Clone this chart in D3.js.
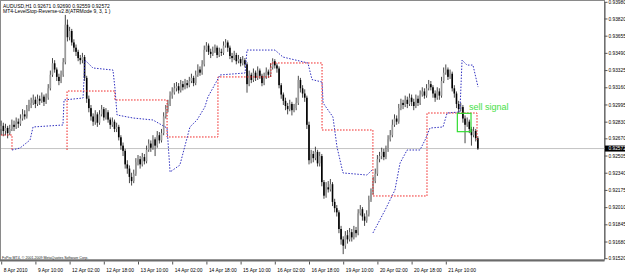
<!DOCTYPE html>
<html><head><meta charset="utf-8">
<script src="https://cdn.jsdelivr.net/npm/d3@7"></script>
<style>
html,body{margin:0;padding:0;background:#fff;}
svg{display:block;}
text{font-family:"Liberation Sans",Arial,sans-serif;}
</style></head><body>
<svg id="c" width="625" height="276"></svg>
<script>
// prices in points (1e-5)
const PT = 1e-5;
const opens = [92760,92790,92740,92770,92720,92760,92800,92780,92830,92810,
92860,92900,92880,92950,92990,93010,93040,93000,93050,93030,
93070,93020,93060,93150,93280,93390,93330,93260,93220,93280,
93400,93760,93640,93700,93590,93540,93500,93440,93420,93450,
93250,93050,92960,92880,92830,92900,92820,92900,92950,92870,
92920,92850,92800,92830,92760,92780,92680,92600,92550,92420,
92380,92300,92260,92330,92440,92470,92420,92490,92450,92560,
92620,92580,92660,92600,92700,92650,92720,92880,92950,93000,
93080,93110,93150,93170,93130,93190,93160,93200,93180,93220,
93250,93200,93280,93330,93300,93380,93520,93560,93500,93480,
93510,93540,93470,93500,93490,93560,93590,93540,93460,93440,
93470,93410,93430,93390,93420,93380,93190,93280,93230,93300,
93250,93320,93270,93200,93260,93310,93280,93350,93410,93370,
93340,93180,93090,93030,92980,92950,93000,92940,92960,93010,
93230,93150,93100,93060,92800,92460,92520,92480,92540,92430,
92500,92250,92120,92200,92180,92230,92060,92000,91960,91800,
91700,91640,91740,91700,91770,91720,91790,91760,91950,91990,
91920,91880,91940,92080,92150,92260,92330,92470,92500,92540,
92490,92560,92660,92700,92800,92860,92830,92960,93010,92990,
93040,93000,93060,93020,92980,93050,93010,93090,93120,93080,
93150,93190,93160,93100,93060,93120,93080,93220,93300,93330,
93260,93290,93150,93100,93000,92950,92970,92860,92800,92830,
92760,92700,92740,92671];
const highs = [92840,92820,92810,92790,92800,92850,92840,92870,92860,92900,
92950,92940,92990,93040,93060,93090,93070,93090,93080,93110,
93090,93100,93190,93320,93440,93420,93350,93290,93320,93440,
93854,93810,93740,93720,93620,93570,93520,93470,93490,93470,
93270,93080,92990,92910,92940,92920,92940,92990,92970,92960,
92940,92870,92870,92850,92820,92800,92700,92630,92570,92460,
92410,92340,92370,92480,92510,92500,92530,92520,92600,92660,
92650,92700,92680,92740,92730,92760,92920,92990,93040,93120,
93160,93200,93210,93200,93230,93220,93240,93230,93260,93290,
93270,93320,93380,93360,93420,93560,93593,93580,93530,93550,
93570,93560,93540,93530,93600,93622,93610,93560,93490,93510,
93490,93470,93450,93460,93440,93400,93320,93300,93340,93320,
93360,93340,93290,93300,93350,93330,93390,93438,93430,93390,
93360,93200,93110,93060,93010,93040,93020,93000,93060,93270,
93250,93180,93140,93080,92830,92560,92550,92590,92560,92540,
92520,92270,92250,92260,92280,92250,92090,92030,91980,91830,
91730,91780,91790,91810,91800,91830,91820,91990,92030,92010,
91950,91980,92120,92190,92300,92380,92510,92540,92580,92570,
92600,92700,92750,92850,92900,92890,93000,93050,93040,93080,
93070,93100,93090,93050,93090,93080,93130,93160,93150,93190,
93230,93220,93180,93130,93160,93150,93260,93350,93379,93350,
93330,93310,93180,93120,93030,93010,92990,92890,92870,92850,
92780,92780,92760,92690];
const lows = [92700,92690,92700,92670,92700,92740,92740,92760,92770,92790,
92840,92850,92860,92930,92960,92990,92960,92980,92990,93010,
92980,93000,93040,93130,93260,93300,93220,93180,93200,93260,
93380,93600,93610,93560,93500,93460,93410,93380,93390,93220,
93010,92920,92840,92790,92800,92780,92800,92880,92840,92850,
92820,92760,92780,92730,92730,92650,92560,92500,92380,92330,
92240,92217,92240,92310,92410,92380,92400,92420,92430,92540,
92540,92560,92500,92580,92620,92630,92700,92860,92920,92980,
93050,93090,93120,93100,93110,93130,93140,93150,93160,93200,
93170,93180,93260,93270,93280,93360,93500,93470,93440,93460,
93490,93440,93450,93460,93470,93540,93500,93430,93400,93420,
93380,93390,93360,93370,93350,93108,93170,93200,93210,93220,
93230,93240,93170,93180,93240,93250,93260,93330,93340,93300,
93150,93050,92990,92940,92900,92930,92890,92920,92940,92990,
93110,93060,93020,92760,92420,92430,92440,92460,92400,92400,
92210,92090,92100,92150,92160,92020,91960,91920,91760,91650,
91559,91610,91660,91680,91680,91700,91720,91740,91930,91880,
91830,91860,91920,92060,92130,92240,92310,92440,92470,92460,
92470,92540,92640,92680,92780,92800,92810,92940,92950,92970,
92960,92980,92980,92940,92960,92980,92990,93070,93050,93060,
93130,93130,93060,93020,93040,93040,93060,93200,93280,93230,
93240,93120,93060,92960,92910,92930,92820,92623,92780,92720,
92600,92680,92640,92559];
const closes = [92790,92740,92770,92720,92760,92800,92780,92830,92810,92860,
92900,92880,92950,92990,93010,93040,93000,93050,93030,93070,
93020,93060,93150,93280,93390,93330,93260,93220,93280,93400,
93760,93640,93700,93590,93540,93500,93440,93420,93450,93250,
93050,92960,92880,92830,92900,92820,92900,92950,92870,92920,
92850,92800,92830,92760,92780,92680,92600,92550,92420,92380,
92300,92260,92330,92440,92470,92420,92490,92450,92560,92620,
92580,92660,92600,92700,92650,92720,92880,92950,93000,93080,
93110,93150,93170,93130,93190,93160,93200,93180,93220,93250,
93200,93280,93330,93300,93380,93520,93560,93500,93480,93510,
93540,93470,93500,93490,93560,93590,93540,93460,93440,93470,
93410,93430,93390,93420,93380,93190,93280,93230,93300,93250,
93320,93270,93200,93260,93310,93280,93350,93410,93370,93340,
93180,93090,93030,92980,92950,93000,92940,92960,93010,93230,
93150,93100,93060,92800,92460,92520,92480,92540,92430,92500,
92250,92120,92200,92180,92230,92060,92000,91960,91800,91700,
91640,91740,91700,91770,91720,91790,91760,91950,91990,91920,
91880,91940,92080,92150,92260,92330,92470,92500,92540,92490,
92560,92660,92700,92800,92860,92830,92960,93010,92990,93040,
93000,93060,93020,92980,93050,93010,93090,93120,93080,93150,
93190,93160,93100,93060,93120,93080,93220,93300,93330,93260,
93290,93150,93100,93000,92950,92970,92860,92800,92830,92760,
92700,92740,92671,92572];

const timeTickBars = [0,16,32,48,64,80,96,112,128,144,160,176,192,208];
const timeTickLabels = ["8 Apr 2010","9 Apr 10:00","12 Apr 02:00","12 Apr 18:00","13 Apr 10:00","14 Apr 02:00","14 Apr 18:00","15 Apr 10:00","16 Apr 02:00","16 Apr 18:00","19 Apr 10:00","20 Apr 02:00","20 Apr 18:00","21 Apr 10:00"];
const priceTicks = [0.93980,0.93820,0.93655,0.93490,0.93325,0.93160,0.92995,0.92830,0.92670,0.92505,0.92340,0.92175,0.92010,0.91845,0.91680,0.91520];

// indicator lines: [bar, price points]
const redLevel = [
 [[0,92702],[5.05,92702],[5.05,92558]],
 [[30.8,92558],[30.8,93124],[53.2,93124],[53.2,93038],[77.6,93038],[77.6,92683],[101.4,92683],[101.4,93259],[126.2,93259],[126.2,93393],[150.1,93393],[150.1,92750],[173.9,92750],[173.9,92117],[199.2,92117],[199.2,92913],[222.6,92913],[222.6,92654]]
];
const blueTrail = [
 [[5.05,92558],[8.8,92577],[13.5,92654],[14.9,92779],[28.9,92798],[29.4,93038],[38.3,93057],[39.2,93421],[42.9,93345],[52.3,93325],[53.2,93153],[54.2,92894],[61.7,92865],[71.0,92846],[77.6,92769],[79.0,92347],[83.6,92414],[88.3,92779],[91.6,92846],[95.3,92971],[96.7,93066],[102.4,93278],[114.1,93297],[115.0,93517],[128.1,93517],[131.8,93450],[143.5,93393],[145.4,93234],[150.1,93210],[150.6,93009],[155.2,92875],[157.1,92587],[159.9,92338],[171.1,92318],[173.5,92366]],
 [[173.9,91762],[179.6,91982],[184.2,92174],[186.6,92433],[189.9,92558],[195.9,92558],[198.3,92654],[200.6,92769],[206.7,92779],[208.6,92913],[214.6,92923],[215.6,93421],[217.9,93373],[220.7,93373],[223.1,93162]]
];
const signalBox = {bar0:213.4, bar1:219.8, hi:92910, lo:92734, label:"sell signal"};
const symbolTitle = "AUDUSD,H1  0.92671 0.92690 0.92559 0.92572";
const indicatorTitle = "MT4-LevelStop-Reverse-v2.8(ATRMode 9, 3, 1 )";
const copyright = "FxPro MT4, © 2001-2009 MetaQuotes Software Corp.";

const svg = d3.select("#c");
const W = 604.5, B = 259.5;
const x = d3.scaleLinear().domain([0,208]).range([1.2,445.8]);
const y = d3.scaleLinear().domain([0.9152,0.9398]).range([258.2,1.8]);
const P = v => v*PT;

// frame
svg.append("rect").attr("x",0.5).attr("y",0.5).attr("width",W-0.5).attr("height",B).attr("fill","#fff").attr("stroke","#8a8a8a").attr("stroke-width",1);

const last = closes[closes.length-1];
// current price line
svg.append("line").attr("x1",1).attr("x2",W).attr("y1",y(P(last))).attr("y2",y(P(last))).attr("stroke","#c4c4c4").attr("stroke-width",1);

// candles
const bars = d3.range(closes.length).map(i=>({i,o:P(opens[i]),h:P(highs[i]),l:P(lows[i]),c:P(closes[i])}));
const g = svg.append("g");
g.selectAll("line.w").data(bars).join("line").attr("class","w")
 .attr("x1",d=>x(d.i)).attr("x2",d=>x(d.i)).attr("y1",d=>y(d.h)).attr("y2",d=>y(d.l))
 .attr("stroke","#333").attr("stroke-width",0.9);
g.selectAll("rect.b").data(bars).join("rect").attr("class","b")
 .attr("x",d=>x(d.i)-0.8).attr("width",1.6)
 .attr("y",d=>y(Math.max(d.o,d.c))).attr("height",d=>Math.max(0.8,Math.abs(y(d.o)-y(d.c))))
 .attr("fill",d=>d.c>=d.o?"#9a9a9a":"#000");

// indicator lines
const lineGen = d3.line().x(d=>x(d[0])).y(d=>y(P(d[1])));
svg.selectAll("path.red").data(redLevel).join("path").attr("class","red").attr("d",lineGen)
 .attr("fill","none").attr("stroke","#f02020").attr("stroke-width",1).attr("stroke-dasharray","1.5,1.5");
svg.selectAll("path.blue").data(blueTrail).join("path").attr("class","blue").attr("d",lineGen)
 .attr("fill","none").attr("stroke","#3030c0").attr("stroke-width",1).attr("stroke-dasharray","1.5,1.5");

// sell signal
svg.append("rect").attr("x",x(signalBox.bar0)).attr("y",y(P(signalBox.hi)))
 .attr("width",x(signalBox.bar1)-x(signalBox.bar0)).attr("height",y(P(signalBox.lo))-y(P(signalBox.hi)))
 .attr("fill","none").attr("stroke","#33dd33").attr("stroke-width",1.2);
svg.append("text").attr("x",x(signalBox.bar1)-2).attr("y",y(P(signalBox.hi))-3.5).text(signalBox.label)
 .attr("font-size",9).attr("fill","#44e044");

// titles
svg.append("text").attr("x",3).attr("y",7.5).attr("font-size",5).attr("fill","#000").text(symbolTitle);
svg.append("text").attr("x",3).attr("y",13).attr("font-size",5).attr("fill","#000").text(indicatorTitle);

// bottom thick line + copyright
svg.append("line").attr("x1",0).attr("x2",W).attr("y1",260.5).attr("y2",260.5).attr("stroke","#6a6a6a").attr("stroke-width",2);
svg.append("text").attr("x",2).attr("y",259).attr("font-size",3.6).attr("fill","#222").text(copyright);

// price axis
const ya = svg.append("g").attr("transform",`translate(${W},0)`)
 .call(d3.axisRight(y).tickValues(priceTicks).tickSize(3).tickSizeOuter(0).tickPadding(1).tickFormat(d3.format(".5f")));
ya.select(".domain").attr("stroke","#555");
ya.selectAll(".tick line").attr("stroke","#555");
ya.selectAll("text").attr("font-size",4.8).attr("fill","#000").attr("font-family","Liberation Sans, Arial, sans-serif");

// current price tag
const cy = y(P(last));
svg.append("rect").attr("x",W+0.5).attr("y",cy-3).attr("width",20).attr("height",6).attr("fill","#000");
svg.append("text").attr("x",W+4).attr("y",cy+1.7).attr("font-size",4.8).attr("fill","#fff").text(d3.format(".5f")(P(last)));

// time axis
const xa = svg.append("g").attr("transform",`translate(0,${B+2})`)
 .call(d3.axisBottom(x).tickValues(timeTickBars).tickSize(3).tickSizeOuter(0).tickFormat((d,i)=>timeTickLabels[i]));
xa.select(".domain").remove();
xa.selectAll(".tick line").attr("stroke","#555");
xa.selectAll("text").attr("text-anchor","start").attr("dx",2).attr("dy",0).attr("y",10.5)
 .attr("font-size",4.9).attr("fill","#000").attr("font-family","Liberation Sans, Arial, sans-serif");
</script>
</body></html>
